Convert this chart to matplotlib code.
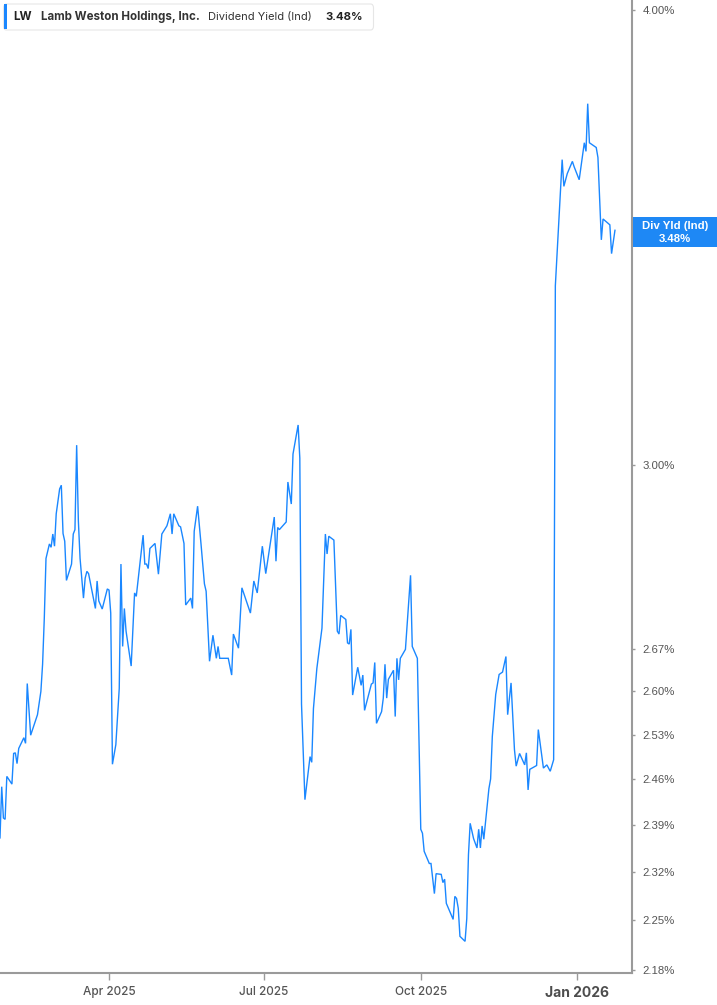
import matplotlib
matplotlib.use("Agg")
import matplotlib.pyplot as plt
import matplotlib.dates as mdates
from matplotlib.patches import FancyBboxPatch, Rectangle
from matplotlib.ticker import FixedLocator, NullLocator
import pandas as pd

# ---- data ----
start_date = "2025-01-27"
day_offsets = [0, 1, 2, 3, 4, 7, 8, 9, 10, 11, 14, 15, 16, 18, 22, 24, 25, 26, 27, 29,
               30, 31, 32, 33, 35, 36, 37, 38, 39, 42, 43, 44, 45, 46, 47, 49, 50, 51, 52, 56,
               57, 58, 60, 63, 64, 65, 66, 68, 70, 71, 72, 73, 74, 77, 79, 80, 84, 85, 86, 87,
               88, 91, 93, 95, 98, 100, 101, 102, 105, 106, 108, 109, 112, 113, 114, 116, 118, 120, 121, 123,
               125, 127, 128, 129, 134, 136, 137, 140, 142, 147, 149, 151, 154, 156, 161, 162, 163, 164, 168, 169,
               171, 172, 175, 176, 177, 179, 182, 183, 184, 186, 189, 191, 192, 193, 196, 198, 199, 200, 203, 204,
               205, 206, 207, 210, 212, 213, 214, 218, 219, 220, 221, 224, 225, 226, 227, 228, 231, 232, 233, 234,
               235, 238, 241, 242, 245, 247, 248, 249, 252, 253, 255, 256, 259, 260, 261, 262, 266, 267, 268, 269,
               270, 273, 274, 275, 276, 278, 280, 281, 282, 283, 284, 287, 288, 289, 291, 293, 295, 297, 298, 300,
               302, 303, 305, 308, 309, 310, 311, 315, 316, 319, 321, 323, 325, 326, 330, 331, 333, 336, 337, 340,
               343, 344, 345, 346, 350, 351, 353, 354, 358, 359, 361]
yield_pct = [2.370, 2.448, 2.400, 2.398, 2.464, 2.452, 2.500, 2.501, 2.484, 2.508, 2.525, 2.516, 2.613, 2.529, 2.562, 2.600, 2.645, 2.723, 2.828, 2.854,
             2.848, 2.872, 2.850, 2.909, 2.955, 2.962, 2.873, 2.859, 2.789, 2.818, 2.872, 2.880, 3.038, 2.896, 2.828, 2.758, 2.793, 2.805, 2.801, 2.740,
             2.788, 2.753, 2.739, 2.774, 2.772, 2.732, 2.483, 2.514, 2.605, 2.818, 2.675, 2.740, 2.701, 2.642, 2.767, 2.761, 2.870, 2.818, 2.818, 2.810,
             2.846, 2.855, 2.800, 2.872, 2.887, 2.909, 2.872, 2.909, 2.887, 2.885, 2.855, 2.746, 2.758, 2.740, 2.877, 2.923, 2.854, 2.783, 2.770, 2.650,
             2.694, 2.655, 2.675, 2.655, 2.655, 2.627, 2.696, 2.672, 2.776, 2.732, 2.788, 2.767, 2.850, 2.801, 2.903, 2.823, 2.884, 2.880, 2.894, 2.968,
             2.927, 3.021, 3.077, 3.013, 2.579, 2.428, 2.495, 2.486, 2.572, 2.638, 2.706, 2.872, 2.836, 2.868, 2.861, 2.701, 2.696, 2.728, 2.721, 2.681,
             2.679, 2.704, 2.594, 2.640, 2.610, 2.627, 2.569, 2.612, 2.614, 2.648, 2.548, 2.567, 2.589, 2.645, 2.589, 2.620, 2.635, 2.559, 2.655, 2.619,
             2.655, 2.670, 2.798, 2.675, 2.655, 2.383, 2.377, 2.350, 2.332, 2.332, 2.288, 2.317, 2.316, 2.304, 2.309, 2.274, 2.251, 2.284, 2.281, 2.267,
             2.227, 2.220, 2.252, 2.345, 2.392, 2.369, 2.355, 2.383, 2.355, 2.388, 2.368, 2.445, 2.460, 2.527, 2.595, 2.628, 2.632, 2.658, 2.562, 2.614,
             2.506, 2.480, 2.500, 2.482, 2.501, 2.443, 2.475, 2.481, 2.538, 2.477, 2.482, 2.472, 2.490, 3.360, 3.639, 3.578, 3.607, 3.635, 3.623, 3.593,
             3.678, 3.658, 3.770, 3.678, 3.667, 3.644, 3.459, 3.505, 3.492, 3.429, 3.480]
y_ticks = [2.18, 2.25, 2.32, 2.39, 2.46, 2.53, 2.60, 2.67, 3.00, 4.00]
x_tick_dates = ["2025-04-01", "2025-07-01", "2025-10-01", "2026-01-01"]
x_tick_labels = ["Apr 2025", "Jul 2025", "Oct 2025", "Jan 2026"]
ticker_sym = "LW"
company = "Lamb Weston Holdings, Inc."
metric = "Dividend Yield (Ind)"
last_value = "3.48%"
badge_label = "Div Yld (Ind)"

LINE = "#1a87ff"
AXIS = "#9a9a9a"
TXT = "#555555"

plt.rcParams['font.family'] = ['Inter', 'DejaVu Sans']

dates = pd.Timestamp(start_date) + pd.to_timedelta(day_offsets, unit="D")

W, H = 717, 1005
fig = plt.figure(figsize=(W / 100, H / 100), dpi=100)
ax = fig.add_axes([0, 32 / H, 632 / W, 1 - 32 / H])

ax.plot(dates, yield_pct, color=LINE, lw=1.0, solid_joinstyle="miter")
ax.set_yscale("log")
ax.set_ylim(2.176, 4.0254)
ax.set_xlim(pd.Timestamp(start_date), pd.Timestamp("2026-02-02"))

ax.yaxis.tick_right()
ax.yaxis.set_major_locator(FixedLocator(y_ticks))
ax.yaxis.set_minor_locator(NullLocator())
ax.set_yticklabels([f"{t:.2f}%" for t in y_ticks])
ax.tick_params(axis="y", which="major", length=2.5, width=1, color=AXIS, labelcolor=TXT,
               labelsize=8.2, pad=5)
for lbl in ax.get_yticklabels():
    lbl.set_family(['Liberation Sans', 'DejaVu Sans'])

xt = [pd.Timestamp(d) for d in x_tick_dates]
ax.set_xticks(xt)
ax.set_xticklabels(x_tick_labels)
ax.tick_params(axis="x", length=5, width=1, color=AXIS, labelcolor=TXT, labelsize=8.5, pad=4)
xl = ax.get_xticklabels()
for lbl in xl:
    lbl.set_fontweight("medium")
xl[-1].set_fontweight("bold")
xl[-1].set_fontsize(10)
xl[-1].set_color("#4d4d4d")

for s in ["top", "left"]:
    ax.spines[s].set_visible(False)
for s in ["right", "bottom"]:
    ax.spines[s].set_color(AXIS)
    ax.spines[s].set_linewidth(1.5)

# header box
box = FancyBboxPatch((3.5 / W, 1 - 30 / H), 370 / W, 26 / H,
                     boxstyle="round,pad=0,rounding_size=0.004",
                     transform=fig.transFigure, facecolor="white",
                     edgecolor="#e6e6e6", lw=0.8, zorder=5)
fig.patches.append(box)
fig.patches.append(Rectangle((4 / W, 1 - 29.5 / H), 3 / W, 25 / H, transform=fig.transFigure,
                             facecolor=LINE, edgecolor="none", zorder=6))
ty = 1 - 17 / H
fig.text(13 / W, ty, ticker_sym, fontsize=8.4, fontweight="bold", color="#222222", va="center", zorder=7)
fig.text(41 / W, ty, company, fontsize=8.3, fontweight="bold", color="#333333", va="center", zorder=7)
fig.text(208 / W, ty, metric, fontsize=8.0, color="#333333", va="center", zorder=7)
fig.text(325 / W, ty, last_value, fontsize=8.2, fontweight="bold", color="#222222", va="center", zorder=7)

# right value badge
fig.patches.append(Rectangle((633 / W, 1 - 247 / H), 84 / W, 30 / H, transform=fig.transFigure,
                             facecolor="#1e88f5", edgecolor="none", zorder=5))
fig.text(675 / W, 1 - 226 / H, badge_label, fontsize=8.2, fontweight="bold", color="white",
         ha="center", va="center", zorder=6, family=['Liberation Sans', 'DejaVu Sans'])
fig.text(675 / W, 1 - 238.5 / H, last_value, fontsize=8.2, fontweight="bold", color="white",
         ha="center", va="center", zorder=6, family=['Liberation Sans', 'DejaVu Sans'])

fig.savefig("out.png", dpi=100)
